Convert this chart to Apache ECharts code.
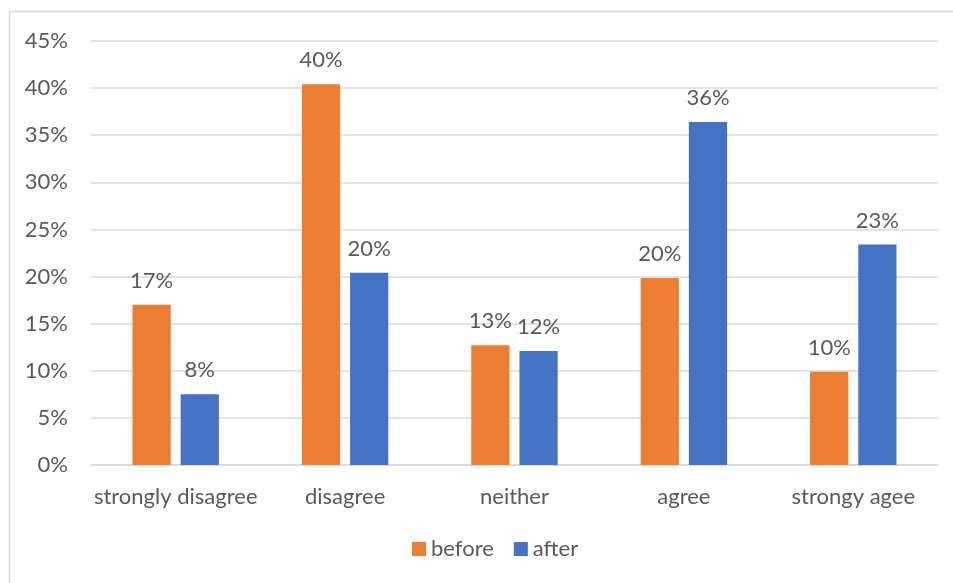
<!DOCTYPE html>
<html><head><meta charset="utf-8">
<script src="https://cdn.jsdelivr.net/npm/echarts@6/dist/echarts.min.js"></script>
<style>html,body{margin:0;padding:0;background:#fff}#c{width:953px;height:583px}</style>
</head><body><div id="c"></div>
<script>
const categories = ['strongly disagree', 'disagree', 'neither', 'agree', 'strongy agee'];
const beforeValues = [17.0, 40.4, 12.7, 19.85, 9.9];
const afterValues = [7.5, 20.4, 12.1, 36.4, 23.4];
const seriesNames = ['before', 'after'];
const yTicks = { min: 0, max: 45, interval: 5 };

const FONT = 'Lato';
const TXT = '#595959';
const chart = echarts.init(document.getElementById('c'), null, { renderer: 'canvas' });
const labelCfg = {
  show: true, position: 'top', distance: 13,
  color: TXT, fontFamily: FONT, fontSize: 22,
  formatter: p => Math.round(p.value) + '%'
};
chart.setOption({
  animation: false,
  backgroundColor: '#fff',
  graphic: [{ type: 'rect', shape: { x: 9.5, y: 11.5, width: 1000, height: 1000 },
    style: { fill: 'none', stroke: '#d9d9d9', lineWidth: 1.5 }, silent: true }],
  grid: { left: 91, right: 15, top: 41, bottom: 118 },
  legend: {
    data: seriesNames, bottom: 18, left: 407, itemWidth: 14, itemHeight: 14, itemGap: 20,
    icon: 'rect', textStyle: { color: TXT, fontFamily: FONT, fontSize: 22 }
  },
  xAxis: {
    type: 'category', data: categories,
    axisLine: { lineStyle: { color: '#d9d9d9', width: 1.5 } },
    axisTick: { show: false },
    axisLabel: { color: TXT, fontFamily: FONT, fontSize: 22, margin: 21, interval: 0 }
  },
  yAxis: {
    type: 'value', min: yTicks.min, max: yTicks.max, interval: yTicks.interval,
    axisLine: { show: false }, axisTick: { show: false },
    splitLine: { lineStyle: { color: '#d9d9d9', width: 1.5 } },
    axisLabel: { color: TXT, fontFamily: FONT, fontSize: 22, margin: 23, formatter: v => v + '%' }
  },
  series: [
    { name: seriesNames[0], type: 'bar', data: beforeValues, itemStyle: { color: '#ED7D31' },
      barGap: '26%', barCategoryGap: '49%', label: labelCfg },
    { name: seriesNames[1], type: 'bar', data: afterValues, itemStyle: { color: '#4472C4' },
      barGap: '26%', barCategoryGap: '49%', label: labelCfg }
  ]
});
</script></body></html>
